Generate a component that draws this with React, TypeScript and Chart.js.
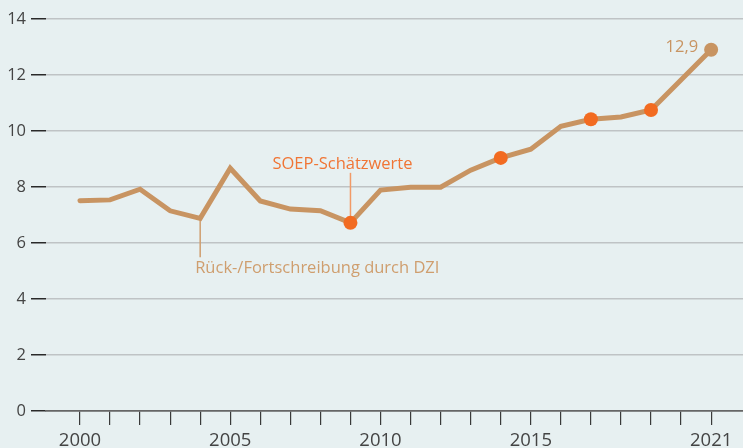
import React, { useEffect, useRef } from 'react';
import { Chart, registerables } from 'chart.js';
Chart.register(...registerables);

const years = [2000, 2001, 2002, 2003, 2004, 2005, 2006, 2007, 2008, 2009, 2010, 2011, 2012, 2013, 2014, 2015, 2016, 2017, 2018, 2019, 2021];
const values = [7.51, 7.54, 7.92, 7.15, 6.88, 8.67, 7.5, 7.21, 7.15, 6.72, 7.89, 7.99, 7.99, 8.6, 9.04, 9.35, 10.17, 10.42, 10.5, 10.75, 12.9];
const soepYears = [2009, 2014, 2017, 2019];
const tickYears = [2000, 2001, 2002, 2003, 2004, 2005, 2006, 2007, 2008, 2009, 2010, 2011, 2012, 2013, 2014, 2015, 2016, 2017, 2018, 2019, 2020, 2021];
const labeledYears = [2000, 2005, 2010, 2015, 2021];
const yTicks = [0, 2, 4, 6, 8, 10, 12, 14];
const lastLabel = '12,9';
const soepText = 'SOEP-Schätzwerte';
const soepLabelYear = 2009;
const dziText = 'Rück-/Fortschreibung durch DZI';
const dziYear = 2004;

const BG = '#e7f0f1';
const LINE = '#c89462';
const ORANGE = '#f26b21';
const FONT = '"Open Sans", sans-serif';

export default function App() {
  const ref = useRef<HTMLCanvasElement | null>(null);
  useEffect(() => {
    document.body.style.margin = '0';
    const lastYear = years[years.length - 1];
    const annot = {
      id: 'annot',
      beforeDatasetsDraw(chart: any) {
        const { ctx, scales } = chart;
        const xs = scales.x, ys = scales.y;
        ctx.save();
        ctx.lineWidth = 1.5;
        const sx = xs.getPixelForValue(soepLabelYear);
        const sy = ys.getPixelForValue(values[years.indexOf(soepLabelYear)]);
        ctx.strokeStyle = '#f29a66';
        ctx.beginPath();
        ctx.moveTo(sx, sy - 50);
        ctx.lineTo(sx, sy);
        ctx.stroke();
        const dx = xs.getPixelForValue(dziYear);
        const dy = ys.getPixelForValue(values[years.indexOf(dziYear)]);
        ctx.strokeStyle = '#cf9e6e';
        ctx.beginPath();
        ctx.moveTo(dx, dy);
        ctx.lineTo(dx, dy + 39);
        ctx.stroke();
        ctx.restore();
      },
      afterDatasetsDraw(chart: any) {
        const { ctx, scales } = chart;
        const xs = scales.x, ys = scales.y;
        ctx.save();
        ctx.font = '16.5px ' + FONT;
        ctx.textBaseline = 'middle';
        const sx = xs.getPixelForValue(soepLabelYear);
        const sy = ys.getPixelForValue(values[years.indexOf(soepLabelYear)]);
        ctx.fillStyle = '#f07535';
        ctx.textAlign = 'center';
        ctx.fillText(soepText, sx - 8, sy - 59);
        const dx = xs.getPixelForValue(dziYear);
        const dy = ys.getPixelForValue(values[years.indexOf(dziYear)]);
        ctx.fillStyle = '#cf9e6e';
        ctx.textAlign = 'left';
        ctx.fillText(dziText, dx - 5, dy + 50);
        const lx = xs.getPixelForValue(lastYear);
        const ly = ys.getPixelForValue(values[values.length - 1]);
        ctx.fillStyle = LINE;
        ctx.textAlign = 'right';
        ctx.fillText(lastLabel, lx - 13, ly - 3);
        ctx.restore();
      },
    };
    const chart = new Chart(ref.current as HTMLCanvasElement, {
      type: 'line',
      data: {
        datasets: [
          {
            data: years.map((y, i) => ({ x: y, y: values[i] })),
            borderColor: LINE,
            borderWidth: 5,
            borderJoinStyle: 'miter',
            borderCapStyle: 'round',
            tension: 0,
            clip: false,
            pointRadius: (c: any) => {
              const yr = years[c.dataIndex];
              return soepYears.includes(yr) || yr === lastYear ? 7 : 0;
            },
            pointBackgroundColor: (c: any) => (years[c.dataIndex] === lastYear ? LINE : ORANGE),
            pointBorderWidth: 0,
            pointHoverRadius: 7,
          },
        ],
      },
      options: {
        animation: false,
        responsive: false,
        maintainAspectRatio: false,
        layout: { autoPadding: false, padding: { top: 19, right: 0, left: 0, bottom: 0 } },
        plugins: { legend: { display: false }, tooltip: { enabled: false } },
        scales: {
          x: {
            type: 'linear',
            min: 1998.87,
            max: 2022.06,
            afterBuildTicks: (s: any) => {
              s.ticks = tickYears.map((v) => ({ value: v }));
            },
            afterFit: (s: any) => {
              s.height = 37;
              s.paddingLeft = 0;
              s.paddingRight = 0;
            },
            grid: { drawOnChartArea: false, tickLength: 14, color: '#3a3a3a', lineWidth: 1.2 },
            border: { display: true, color: '#666', width: 1.5 },
            ticks: {
              autoSkip: false,
              maxRotation: 0,
              padding: 5,
              color: '#444',
              font: { family: FONT, size: 18.5 },
              callback: (v: any) => (labeledYears.includes(v) ? String(v) : ''),
            },
          },
          y: {
            min: 0,
            max: 14,
            afterBuildTicks: (s: any) => {
              s.ticks = yTicks.map((v) => ({ value: v }));
            },
            afterFit: (s: any) => {
              s.width = 46;
            },
            border: { display: false },
            grid: {
              tickLength: 15,
              lineWidth: 1.5,
              color: (c: any) => (c.tick && c.tick.value === 0 ? '#666' : '#bfc3c5'),
              tickColor: '#2a2a2a',
            },
            ticks: {
              padding: 5,
              color: '#444',
              font: { family: FONT, size: 16.5 },
            },
          },
        },
      },
      plugins: [annot],
    } as any);
    return () => chart.destroy();
  }, []);
  return (
    <div style={{ width: 743, height: 448, background: BG }}>
      <canvas ref={ref} width={743} height={448} style={{ display: 'block' }} />
    </div>
  );
}
